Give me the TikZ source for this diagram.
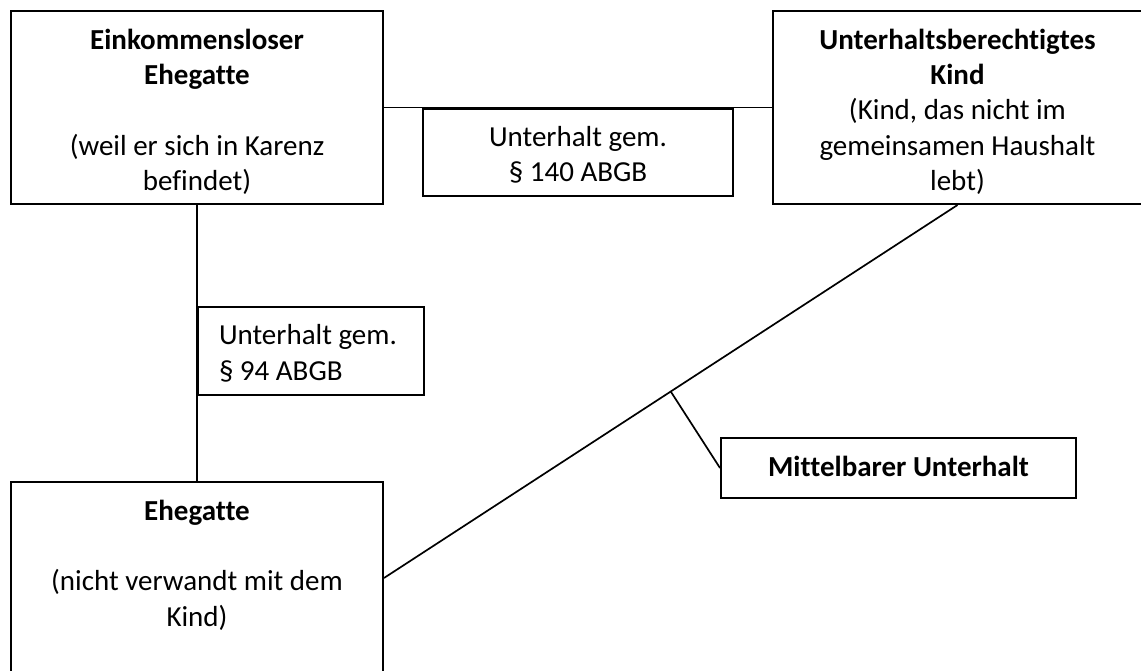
\documentclass[tikz,border=0pt]{standalone}
\usepackage{fontspec}
\setmainfont[Ligatures=NoCommon]{Carlito}
\usetikzlibrary{positioning}
\usetikzlibrary{calc}
\tikzset{person/.style={rectangle, draw, line width=2pt, anchor=north, inner xsep=8pt, inner ysep=0pt, text height=38pt, align=flush center, font=\fontsize{29pt}{35.4pt}\selectfont}}
\tikzset{law/.style={person}}
\tikzset{link/.style={line width=1.7pt}}

\begin{document}
\begin{tikzpicture}[x=1pt, y=-1pt]

    \useasboundingbox (0,0) rectangle (1141,670);

    % Persons.
    \node [person, text width=356pt, text depth=155pt] (partner) at (197,10)
        {\textbf{Einkommensloser}\\\textbf{Ehegatte}\\[35.4pt](weil er sich in Karenz\\befindet)};
    \node [person, text width=353pt, text depth=155pt] (child) at (957.5,10)
        {\textbf{Unterhaltsberechtigtes}\\\textbf{Kind}\\(Kind, das nicht im\\gemeinsamen Haushalt\\lebt)};
    \node [person, text width=356pt, text depth=154pt] (spouse) at (197,481)
        {\textbf{Ehegatte}\\[35.4pt](nicht verwandt mit dem\\Kind)};

    % Legal grounds.
    \node [law, text width=294pt, text depth=49pt] (para140) at ($(partner.east)!0.5!(child.west)$)
        {Unterhalt gem.\\§ 140 ABGB};
    \node [law, anchor=north west, inner xsep=21pt, text width=184pt, text depth=50pt, align=flush left] (para94)
        at ($(partner.south)!0.365!(spouse.north)$) {Unterhalt gem.\\§ 94 ABGB};
    \node [law, text width=339pt, text depth=22pt] (indirect) at (898.5,437)
        {\textbf{Mittelbarer Unterhalt}};

    % Lines between the persons.
    \draw [link] (partner.east) -- (child.west);
    \draw [link] (partner) -- (spouse);
    \draw [link] (spouse.east) -- (child.south) coordinate [pos=0.5] (indirect-mid);

    % Line to the note.
    \draw [link] (indirect-mid) -- (indirect.west);

\end{tikzpicture}
\end{document}
